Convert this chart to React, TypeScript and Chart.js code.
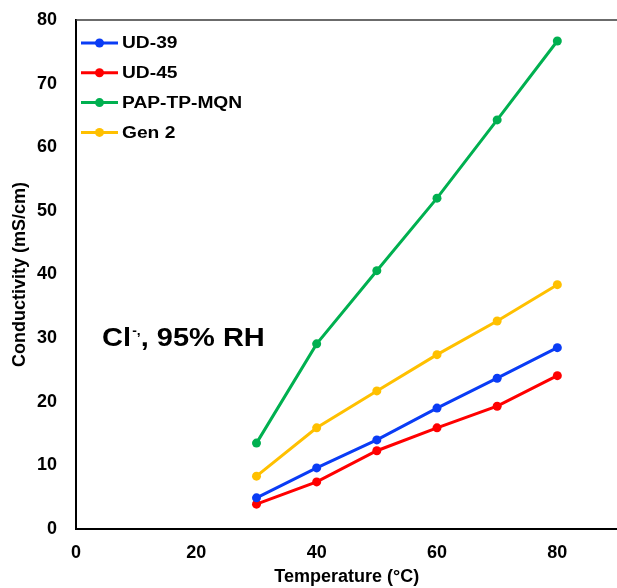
import { useEffect, useRef } from 'react';
import { Chart, registerables } from 'chart.js';

Chart.register(...registerables);

const temperatures = [30, 40, 50, 60, 70, 80];
const ud39 = [4.9, 9.6, 14.0, 19.0, 23.7, 28.5];
const ud45 = [3.9, 7.4, 12.3, 15.9, 19.3, 24.1];
const papTpMqn = [13.5, 29.1, 40.6, 52.0, 64.3, 76.7];
const gen2 = [8.3, 15.9, 21.7, 27.4, 32.7, 38.4];
const seriesNames = ['UD-39', 'UD-45', 'PAP-TP-MQN', 'Gen 2'];
const seriesColors = ['#0a3cf5', '#ff0000', '#00b050', '#ffc000'];
const xTickValues = [0, 20, 40, 60, 80];
const annotationMain = 'Cl';
const annotationSup = '-,';
const annotationRest = ', 95% RH';

const FONT = "Arial, 'Liberation Sans', Helvetica, sans-serif";

export default function App() {
  const ref = useRef<HTMLCanvasElement | null>(null);

  useEffect(() => {
    document.body.style.margin = '0';
    const canvas = ref.current;
    if (!canvas) return;
    const allSeries = [ud39, ud45, papTpMqn, gen2];

    const overlay = {
      id: 'overlay',
      afterDraw(chart: any) {
        const { ctx, chartArea } = chart;
        ctx.save();
        // top border
        ctx.strokeStyle = '#3a3a3a';
        ctx.lineWidth = 1.5;
        ctx.beginPath();
        ctx.moveTo(chartArea.left, chartArea.top);
        ctx.lineTo(chartArea.right, chartArea.top);
        ctx.stroke();

        // legend
        const lx0 = chartArea.left + 5;
        const rowY0 = chartArea.top + 23;
        const rowGap = 29.8;
        seriesNames.forEach((name, i) => {
          const y = rowY0 + i * rowGap;
          ctx.strokeStyle = seriesColors[i];
          ctx.fillStyle = seriesColors[i];
          ctx.lineWidth = 3;
          ctx.beginPath();
          ctx.moveTo(lx0, y);
          ctx.lineTo(lx0 + 37, y);
          ctx.stroke();
          ctx.beginPath();
          ctx.arc(lx0 + 18.5, y, 4.5, 0, Math.PI * 2);
          ctx.fill();
          ctx.save();
          ctx.translate(lx0 + 41, y);
          ctx.scale(1.2, 1);
          ctx.fillStyle = '#000';
          ctx.font = `bold 16px ${FONT}`;
          ctx.textBaseline = 'middle';
          ctx.textAlign = 'left';
          ctx.fillText(name, 0, 1);
          ctx.restore();
        });

        // annotation
        ctx.save();
        ctx.translate(chartArea.left + 26, 338);
        ctx.scale(1.16, 1);
        ctx.fillStyle = '#000';
        ctx.textBaseline = 'middle';
        ctx.textAlign = 'left';
        ctx.font = `bold 25px ${FONT}`;
        ctx.fillText(annotationMain, 0, 1);
        let w = ctx.measureText(annotationMain).width;
        ctx.font = `bold 12px ${FONT}`;
        ctx.fillText(annotationSup, w + 1, -6);
        w += ctx.measureText(annotationSup).width + 1;
        ctx.font = `bold 25px ${FONT}`;
        ctx.fillText(annotationRest, w, 1);
        ctx.restore();
        ctx.restore();
      },
    };

    const chart = new Chart(canvas, {
      type: 'scatter',
      data: {
        datasets: seriesNames.map((name, i) => ({
          label: name,
          data: temperatures.map((t, j) => ({ x: t, y: allSeries[i][j] })),
          showLine: true,
          borderColor: seriesColors[i],
          backgroundColor: seriesColors[i],
          borderWidth: 3,
          pointRadius: 4.5,
          pointBorderWidth: 0,
          pointBackgroundColor: seriesColors[i],
          tension: 0,
          order: [2, 3, 0, 1][i],
        })),
      },
      options: {
        animation: false,
        responsive: false,
        layout: { padding: { top: 20, right: 0, left: 0, bottom: 0 } },
        plugins: {
          legend: { display: false },
          tooltip: { enabled: false },
        },
        scales: {
          x: {
            type: 'linear',
            min: 0,
            max: 90,
            afterBuildTicks: (scale: any) => {
              scale.ticks = xTickValues.map((v) => ({ value: v }));
            },
            afterFit: (scale: any) => {
              scale.height = 59;
              scale.paddingLeft = 0;
              scale.paddingRight = 0;
            },
            grid: { display: false, drawTicks: false },
            border: { display: true, color: '#000', width: 2 },
            ticks: {
              color: '#000',
              padding: 13,
              font: { family: FONT, size: 18, weight: 'bold' },
            },
            title: {
              display: true,
              text: 'Temperature (°C)',
              color: '#000',
              padding: { top: 3, bottom: 0 },
              font: { family: FONT, size: 18, weight: 'bold' },
            },
          },
          y: {
            type: 'linear',
            min: 0,
            max: 80,
            afterFit: (scale: any) => {
              scale.width = 76;
              scale.paddingTop = 0;
              scale.paddingBottom = 0;
            },
            grid: { display: false, drawTicks: false },
            border: { display: true, color: '#000', width: 2 },
            ticks: {
              stepSize: 10,
              color: '#000',
              padding: 19,
              font: { family: FONT, size: 18, weight: 'bold' },
            },
            title: {
              display: true,
              text: 'Conductivity (mS/cm)',
              color: '#000',
              padding: { top: 9, bottom: 0 },
              font: { family: FONT, size: 18, weight: 'bold' },
            },
          },
        },
      },
      plugins: [overlay],
    } as any);

    return () => chart.destroy();
  }, []);

  return (
    <div style={{ width: 617, height: 588, overflow: 'hidden' }}>
      <canvas ref={ref} width={622} height={588} style={{ display: 'block' }} />
    </div>
  );
}
